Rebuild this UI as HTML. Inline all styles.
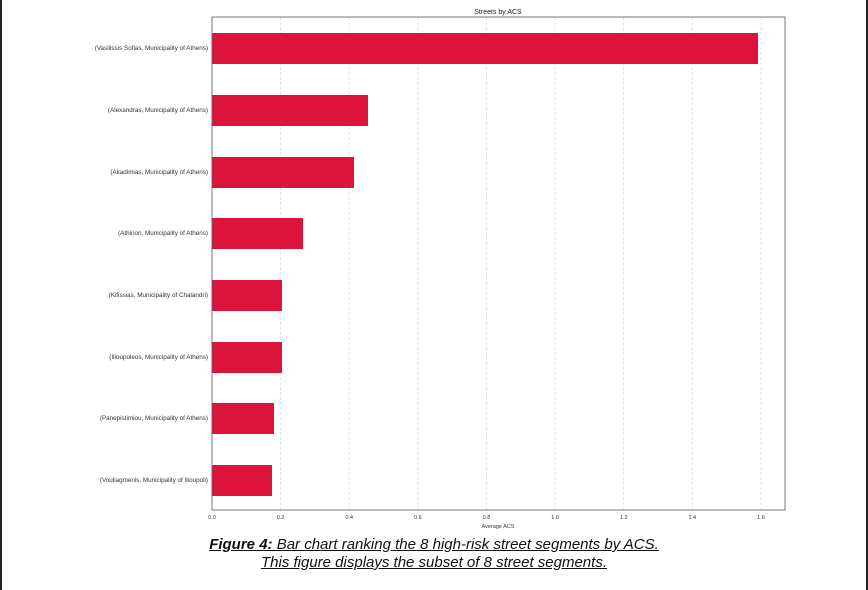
<!DOCTYPE html>
<html><head><meta charset="utf-8"><style>
body{margin:0;width:868px;height:590px;background:#fff;overflow:hidden;font-family:"Liberation Sans","DejaVu Sans",sans-serif;}
.cap{position:absolute;left:0;width:868px;text-align:center;font-style:italic;text-decoration:underline;font-size:15px;color:#111;}
</style></head><body>
<div style="position:absolute;left:0;top:0;width:2px;height:590px;background:#222"></div>
<div style="position:absolute;left:866px;top:0;width:2px;height:590px;background:#222"></div>
<svg width="868" height="590" style="position:absolute;left:0;top:0" font-family="Liberation Sans, DejaVu Sans, sans-serif">
<text x="498" y="14" font-size="7" text-anchor="middle" fill="#222">Streets by ACS</text>
<g stroke="#ddd" stroke-width="0.8" stroke-dasharray="3,2">
<line x1="280.6" y1="17" x2="280.6" y2="510"/><line x1="349.2" y1="17" x2="349.2" y2="510"/><line x1="417.9" y1="17" x2="417.9" y2="510"/><line x1="486.5" y1="17" x2="486.5" y2="510"/><line x1="555.1" y1="17" x2="555.1" y2="510"/><line x1="623.7" y1="17" x2="623.7" y2="510"/><line x1="692.3" y1="17" x2="692.3" y2="510"/><line x1="761" y1="17" x2="761" y2="510"/>
</g>
<g fill="#dc143c">
<rect x="212" y="33" width="546" height="31"/>
<rect x="212" y="95" width="156" height="31"/>
<rect x="212" y="157" width="142" height="31"/>
<rect x="212" y="218" width="91" height="31"/>
<rect x="212" y="280" width="70" height="31"/>
<rect x="212" y="342" width="70" height="31"/>
<rect x="212" y="403" width="62" height="31"/>
<rect x="212" y="465" width="60" height="31"/>
</g>
<rect x="212" y="17" width="573" height="493" fill="none" stroke="#555" stroke-width="0.8"/>
<g font-size="6.3" fill="#333" text-anchor="end">
<text x="208" y="50">(Vasilissis Sofias, Municipality of Athens)</text>
<text x="208" y="112">(Alexandras, Municipality of Athens)</text>
<text x="208" y="174">(Akadimias, Municipality of Athens)</text>
<text x="208" y="235">(Athinon, Municipality of Athens)</text>
<text x="208" y="297">(Kifissias, Municipality of Chalandri)</text>
<text x="208" y="359">(Ilioupoleos, Municipality of Athens)</text>
<text x="208" y="420">(Panepistimiou, Municipality of Athens)</text>
<text x="208" y="482">(Vouliagmenis, Municipality of Ilioupoli)</text>
</g>
<g font-size="5.5" fill="#333" text-anchor="middle">
<text x="212" y="519">0.0</text><text x="280.6" y="519">0.2</text><text x="349.2" y="519">0.4</text><text x="417.9" y="519">0.6</text><text x="486.5" y="519">0.8</text><text x="555.1" y="519">1.0</text><text x="623.7" y="519">1.2</text><text x="692.3" y="519">1.4</text><text x="761" y="519">1.6</text>
<text x="498" y="528">Average ACS</text>
</g>
</svg>
<div class="cap" style="top:536px"><b>Figure 4:</b> Bar chart ranking the 8 high-risk street segments by ACS.</div>
<div class="cap" style="top:554px">This figure displays the subset of 8 street segments.</div>
</body></html>
